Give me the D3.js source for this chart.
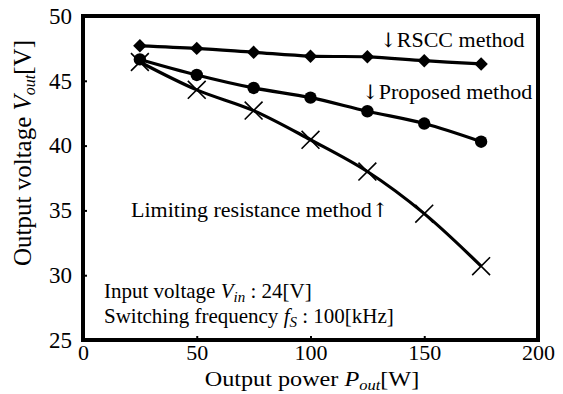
<!DOCTYPE html>
<html><head><meta charset="utf-8">
<script src="https://cdn.jsdelivr.net/npm/d3@7"></script>
<style>body{margin:0;background:#fff}svg{display:block}text{font-family:"Liberation Serif","Times New Roman",serif;fill:#000}.ar{font-family:"DejaVu Serif","DejaVu Sans",serif}</style>
</head><body><svg id="c" width="563" height="394"></svg>
<script>
const power = [25, 50, 75, 100, 125, 150, 175];
const rscc = [47.7, 47.5, 47.2, 46.9, 46.85, 46.55, 46.3];
const proposed = [46.65, 45.45, 44.45, 43.7, 42.65, 41.7, 40.3];
const limiting = [46.45, 44.3, 42.7, 40.45, 38.0, 34.75, 30.7];
const xTicks = [0, 50, 100, 150, 200];
const yTicks = [25, 30, 35, 40, 45, 50];

const svg = d3.select("#c");
const L = 83, R = 538, T = 16, B = 340;
const x = d3.scaleLinear().domain([0, 200]).range([L, R]);
const y = d3.scaleLinear().domain([25, 50]).range([B, T]);

svg.append("g").attr("transform", `translate(0,${B})`)
  .call(d3.axisBottom(x).tickValues(xTicks).tickSize(-4).tickPadding(4).tickFormat(d3.format("d")))
  .call(g => { g.select(".domain").remove(); g.selectAll("line").attr("stroke-width", 2);
    g.selectAll("text").attr("font-size", 22).attr("dy", "0.71em"); });
svg.append("g").attr("transform", `translate(${L},0)`)
  .call(d3.axisLeft(y).tickValues(yTicks).tickSize(-4).tickPadding(11).tickFormat(d3.format("d")))
  .call(g => { g.select(".domain").remove(); g.selectAll("line").attr("stroke-width", 2);
    g.selectAll("text").attr("font-size", 23); });

svg.append("rect").attr("x", L).attr("y", T).attr("width", R - L).attr("height", B - T)
  .attr("fill", "none").attr("stroke", "#000").attr("stroke-width", 4);

const curve = d3.curveCatmullRom.alpha(0.5);
function series(vals) {
  const pts = power.map((p, i) => [p, vals[i]]);
  svg.append("path").datum(pts)
    .attr("d", d3.line().x(d => x(d[0])).y(d => y(d[1])).curve(curve))
    .attr("fill", "none").attr("stroke", "#000").attr("stroke-width", 3.2);
  return pts;
}
const p1 = series(rscc), p2 = series(proposed), p3 = series(limiting);

svg.append("g").selectAll("path").data(p1).join("path")
  .attr("d", d3.symbol().type(d3.symbolDiamond2).size(115))
  .attr("transform", d => `translate(${x(d[0])},${y(d[1])})`).attr("fill", "#000");
svg.append("g").selectAll("circle").data(p2).join("circle")
  .attr("cx", d => x(d[0])).attr("cy", d => y(d[1])).attr("r", 6.2).attr("fill", "#000");
svg.append("g").selectAll("path").data(p3).join("path")
  .attr("d", d3.symbol().type(d3.symbolX).size(210))
  .attr("transform", d => `translate(${x(d[0])},${y(d[1])})`)
  .attr("fill", "none").attr("stroke", "#000").attr("stroke-width", 1.6);

function ann(tx, ty, before, label, after) {
  const t = svg.append("text").attr("x", tx).attr("y", ty).attr("font-size", 22);
  if (before) t.append("tspan").attr("class", "ar").attr("font-size", 20).text(before);
  t.append("tspan").text(label);
  if (after) t.append("tspan").attr("class", "ar").attr("font-size", 20).text(after);
}
ann(380, 47, "↓", "RSCC method", "");
ann(362, 99, "↓", "Proposed method", "");
ann(131, 217, "", "Limiting resistance method", "↑");

const t1 = svg.append("text").attr("x", 104).attr("y", 298).attr("font-size", 21);
t1.append("tspan").text("Input voltage ");
t1.append("tspan").attr("font-style", "italic").text("V");
t1.append("tspan").attr("font-style", "italic").attr("font-size", 15).attr("dy", 4).text("in");
t1.append("tspan").attr("dy", -4).text(" : 24[V]");
const t2 = svg.append("text").attr("x", 104).attr("y", 323).attr("font-size", 21);
t2.append("tspan").text("Switching frequency ");
t2.append("tspan").attr("font-style", "italic").text("f");
t2.append("tspan").attr("font-style", "italic").attr("font-size", 15).attr("dy", 4).text("S");
t2.append("tspan").attr("dy", -4).text(" : 100[kHz]");

const xl = svg.append("text").attr("transform", "translate(312,386) scale(1.1,1)").attr("text-anchor", "middle").attr("font-size", 22);
xl.append("tspan").text("Output power ");
xl.append("tspan").attr("font-style", "italic").text("P");
xl.append("tspan").attr("font-style", "italic").attr("font-size", 15).attr("dy", 4).text("out");
xl.append("tspan").attr("dy", -4).text("[W]");

const yl = svg.append("text").attr("transform", "translate(31,153) rotate(-90)").attr("text-anchor", "middle").attr("font-size", 25);
yl.append("tspan").text("Output voltage ");
yl.append("tspan").attr("font-style", "italic").text("V");
yl.append("tspan").attr("font-style", "italic").attr("font-size", 16).attr("dy", 4).text("out");
yl.append("tspan").attr("dy", -4).text("[V]");
</script></body></html>
